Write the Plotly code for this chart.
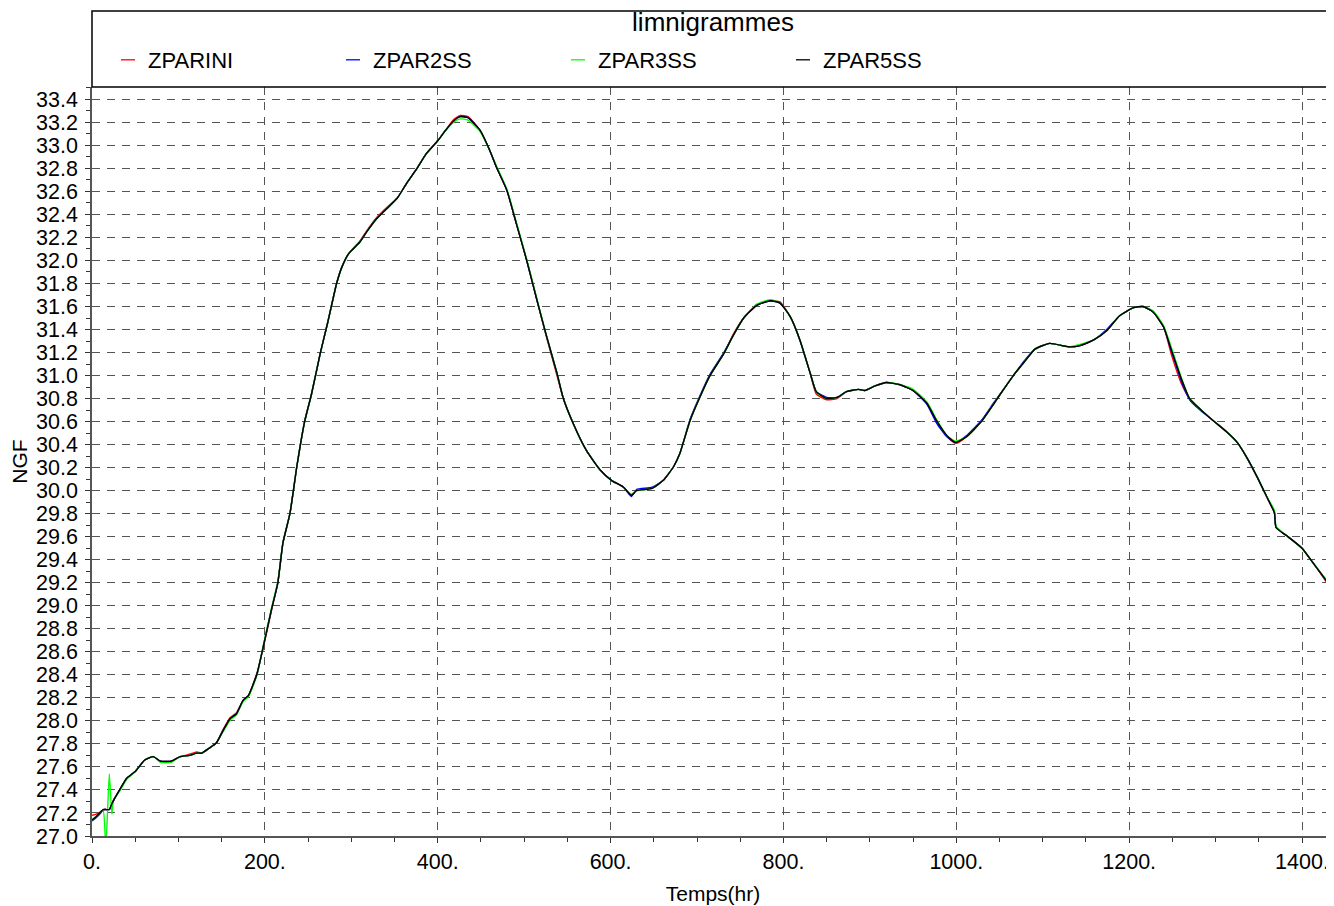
import plotly.graph_objects as go

# ---------------- data ----------------
T = [0, 5, 10, 13, 16, 20, 23, 25, 32, 40, 50, 61, 71, 79, 92, 102, 113, 121, 127, 135, 144, 152, 160, 167,
     175, 181, 191, 198, 208, 215, 221, 229, 237, 246, 254, 264, 273, 283, 289, 297, 310, 318, 329, 341,
     353, 364, 376, 387, 400, 408, 418, 426, 435, 449, 460, 468, 480, 491, 503, 515, 526, 538, 545, 557,
     572, 588, 601, 615, 624, 630, 648, 661, 673, 680, 692, 702, 715, 731, 742, 754, 769, 785, 796, 808,
     819, 831, 838, 850, 862, 873, 887, 894, 906, 919, 935, 950, 966, 977, 989, 999, 1012, 1029, 1043,
     1051, 1066, 1080, 1091, 1108, 1130, 1143, 1159, 1174, 1189, 1205, 1216, 1228, 1240, 1249, 1261,
     1270, 1282, 1297, 1313, 1325, 1336, 1348, 1359, 1368, 1370, 1382, 1400, 1413, 1437]

ZPAR5SS = [27.14, 27.17, 27.21, 27.23, 27.23, 27.23, 27.28, 27.31, 27.40, 27.50, 27.56, 27.66, 27.69, 27.65,
           27.65, 27.69, 27.70, 27.72, 27.72, 27.76, 27.81, 27.92, 28.02, 28.06, 28.18, 28.22, 28.41, 28.64,
           28.98, 29.20, 29.55, 29.80, 30.21, 30.60, 30.84, 31.19, 31.47, 31.80, 31.94, 32.06, 32.16, 32.25,
           32.36, 32.45, 32.54, 32.67, 32.80, 32.93, 33.04, 33.12, 33.21, 33.25, 33.24, 33.13, 32.96, 32.81,
           32.61, 32.32, 32.00, 31.65, 31.34, 31.02, 30.81, 30.58, 30.35, 30.18, 30.09, 30.03, 29.96, 30.00,
           30.02, 30.09, 30.21, 30.32, 30.61, 30.79, 31.00, 31.19, 31.35, 31.50, 31.61, 31.65, 31.63, 31.51,
           31.31, 31.02, 30.86, 30.80, 30.81, 30.86, 30.88, 30.87, 30.91, 30.94, 30.92, 30.87, 30.76, 30.61,
           30.48, 30.42, 30.47, 30.60, 30.75, 30.84, 31.00, 31.13, 31.23, 31.28, 31.25, 31.26, 31.31, 31.39,
           31.52, 31.59, 31.60, 31.55, 31.42, 31.22, 30.96, 30.80, 30.71, 30.61, 30.51, 30.42, 30.29, 30.12,
           29.95, 29.81, 29.68, 29.61, 29.50, 29.37, 29.13]

ZPARINI = [27.18, 27.19, 27.21, 27.23, 27.23, 27.23, 27.28, 27.31, 27.40, 27.50, 27.56, 27.66, 27.69, 27.65,
           27.65, 27.69, 27.71, 27.73, 27.72, 27.76, 27.81, 27.93, 28.03, 28.07, 28.18, 28.22, 28.42, 28.63,
           28.97, 29.20, 29.55, 29.80, 30.21, 30.60, 30.84, 31.19, 31.47, 31.80, 31.94, 32.06, 32.17, 32.26,
           32.37, 32.46, 32.54, 32.67, 32.80, 32.93, 33.04, 33.12, 33.22, 33.26, 33.25, 33.13, 32.96, 32.81,
           32.61, 32.32, 32.00, 31.65, 31.33, 31.00, 30.81, 30.58, 30.35, 30.18, 30.09, 30.03, 29.96, 30.00,
           30.02, 30.09, 30.21, 30.32, 30.61, 30.79, 31.00, 31.19, 31.36, 31.50, 31.61, 31.65, 31.64, 31.51,
           31.31, 31.02, 30.84, 30.79, 30.80, 30.86, 30.88, 30.87, 30.91, 30.94, 30.92, 30.87, 30.76, 30.61,
           30.47, 30.41, 30.47, 30.60, 30.75, 30.84, 31.00, 31.13, 31.23, 31.28, 31.25, 31.26, 31.31, 31.39,
           31.52, 31.59, 31.60, 31.55, 31.42, 31.18, 30.92, 30.80, 30.71, 30.61, 30.51, 30.42, 30.29, 30.12,
           29.95, 29.81, 29.68, 29.61, 29.50, 29.37, 29.11]

ZPAR2SS = [27.13, 27.16, 27.20, 27.23, 27.23, 27.23, 27.28, 27.31, 27.40, 27.50, 27.56, 27.66, 27.69, 27.65,
           27.65, 27.69, 27.70, 27.72, 27.72, 27.76, 27.81, 27.92, 28.02, 28.06, 28.18, 28.22, 28.41, 28.64,
           28.98, 29.20, 29.55, 29.80, 30.21, 30.60, 30.84, 31.19, 31.47, 31.80, 31.94, 32.06, 32.16, 32.25,
           32.36, 32.45, 32.54, 32.67, 32.80, 32.93, 33.04, 33.12, 33.21, 33.25, 33.24, 33.13, 32.96, 32.81,
           32.61, 32.32, 32.00, 31.65, 31.34, 31.02, 30.81, 30.58, 30.35, 30.18, 30.09, 30.03, 29.95, 30.01,
           30.03, 30.09, 30.21, 30.32, 30.62, 30.80, 31.01, 31.20, 31.35, 31.50, 31.61, 31.65, 31.63, 31.51,
           31.31, 31.02, 30.86, 30.81, 30.81, 30.86, 30.88, 30.87, 30.91, 30.94, 30.92, 30.87, 30.75, 30.59,
           30.47, 30.42, 30.48, 30.61, 30.76, 30.84, 31.00, 31.14, 31.23, 31.28, 31.25, 31.26, 31.31, 31.40,
           31.52, 31.59, 31.60, 31.55, 31.42, 31.21, 30.94, 30.79, 30.70, 30.61, 30.51, 30.42, 30.29, 30.12,
           29.95, 29.81, 29.68, 29.61, 29.50, 29.37, 29.13]

ZPAR3SS = [27.14, 27.17, 27.21, 27.22, 26.90, 27.54, 27.19, 27.32, 27.39, 27.49, 27.56, 27.66, 27.69, 27.64,
           27.64, 27.69, 27.70, 27.72, 27.72, 27.76, 27.81, 27.91, 28.01, 28.05, 28.17, 28.21, 28.40, 28.65,
           28.99, 29.21, 29.55, 29.80, 30.21, 30.60, 30.84, 31.19, 31.47, 31.80, 31.94, 32.06, 32.16, 32.25,
           32.36, 32.45, 32.54, 32.67, 32.80, 32.93, 33.04, 33.12, 33.20, 33.23, 33.22, 33.12, 32.96, 32.82,
           32.62, 32.33, 32.01, 31.66, 31.34, 31.02, 30.81, 30.58, 30.35, 30.18, 30.09, 30.03, 29.97, 30.00,
           30.02, 30.09, 30.21, 30.32, 30.61, 30.79, 31.00, 31.19, 31.35, 31.50, 31.62, 31.66, 31.63, 31.51,
           31.31, 31.02, 30.86, 30.80, 30.81, 30.86, 30.88, 30.87, 30.91, 30.94, 30.92, 30.88, 30.77, 30.62,
           30.48, 30.43, 30.47, 30.60, 30.75, 30.84, 31.00, 31.13, 31.23, 31.28, 31.25, 31.27, 31.31, 31.39,
           31.52, 31.59, 31.60, 31.56, 31.43, 31.24, 30.97, 30.80, 30.71, 30.61, 30.51, 30.42, 30.29, 30.12,
           29.95, 29.83, 29.69, 29.61, 29.50, 29.37, 29.14]

SERIES = [("ZPARINI", ZPARINI, "#ff0000"),
          ("ZPAR2SS", ZPAR2SS, "#0000ff"),
          ("ZPAR3SS", ZPAR3SS, "#00ff00"),
          ("ZPAR5SS", ZPAR5SS, "#000000")]

X_TICKS = [0, 200, 400, 600, 800, 1000, 1200, 1400]
X_TICK_TEXT = ["0.", "200.", "400.", "600.", "800.", "1000.", "1200.", "1400."]

# ---------------- figure ----------------
FONT = "Liberation Sans, Arial, sans-serif"
# page body has an 8px margin: figure is placed at (8, 8)
W, H = 1326, 898
ML, MR, MT, MB = 84, 0, 79, 70
PH = H - MT - MB
PW = W - ML - MR

fig = go.Figure()
for name, vals, col in SERIES:
    fig.add_trace(go.Scatter(x=T, y=vals, mode="lines", name=name,
                             line=dict(color=col, width=1.4, shape="spline", smoothing=0.5),
                             showlegend=False))
# legend entries (short dash symbol)
for name, vals, col in SERIES:
    fig.add_trace(go.Scatter(x=[None], y=[None], mode="markers", name=name,
                             marker=dict(symbol="line-ew", size=10, color=col,
                                         line=dict(color=col, width=1.3)),
                             showlegend=True))

grid_col = "#555555"
axis_col = "#555555"
common_x = dict(range=[0, 1437], tickvals=X_TICKS, ticktext=X_TICK_TEXT)
common_y = dict(range=[27.0, 33.507], tick0=27.0, dtick=0.2, tickformat=".1f")

fig.update_layout(
    width=W, height=H,
    margin=dict(l=ML, r=MR, t=MT, b=MB),
    paper_bgcolor="white", plot_bgcolor="white",
    font=dict(family=FONT, size=21, color="black"),
    title=dict(text="limnigrammes", x=(ML + PW / 2) / W, xanchor="center",
               y=1 - 14 / H, yanchor="middle", font=dict(size=26, family=FONT)),
    xaxis=dict(**common_x, showgrid=True, gridcolor=grid_col, griddash="8px,7px", gridwidth=1.4,
               showline=True, linecolor=axis_col, linewidth=1.5, zeroline=False,
               ticks="outside", ticklen=5, tickwidth=1.3, tickcolor="#333",
               minor=dict(dtick=50, tick0=0, ticks="outside", ticklen=4, tickwidth=1.2,
                          tickcolor="#333", showgrid=False),
               tickfont=dict(size=21.5), title=dict(text="Temps(hr)", font=dict(size=21), standoff=14)),
    xaxis2=dict(**common_x, overlaying="x", anchor="y", side="bottom", showgrid=False,
                showline=False, zeroline=False, showticklabels=False,
                ticks="inside", ticklen=5, tickwidth=1.3, tickcolor="#333",
                minor=dict(dtick=50, tick0=0, ticks="inside", ticklen=4, tickwidth=1.2,
                           tickcolor="#333", showgrid=False)),
    yaxis=dict(**common_y, showgrid=True, gridcolor=grid_col, griddash="8px,7px", gridwidth=1.4,
               showline=True, linecolor=axis_col, linewidth=1.5, zeroline=False,
               ticks="outside", ticklen=5, tickwidth=1.3, tickcolor="#333",
               minor=dict(dtick=0.1, tick0=27.0, ticks="outside", ticklen=4, tickwidth=1.2,
                          tickcolor="#333", showgrid=False),
               ticklabelstandoff=3,
               tickfont=dict(size=21.5), title=dict(text="NGF", font=dict(size=21), standoff=3)),
    yaxis2=dict(**common_y, overlaying="y", anchor="x", side="left", showgrid=False,
                showline=False, zeroline=False, showticklabels=False,
                ticks="inside", ticklen=5, tickwidth=1.3, tickcolor="#333",
                minor=dict(dtick=0.1, tick0=27.0, ticks="inside", ticklen=4, tickwidth=1.2,
                           tickcolor="#333", showgrid=False)),
    legend=dict(orientation="h", x=16 / PW, xanchor="left", y=1 + (MT + 8 - 60) / PH, yanchor="middle",
                bgcolor="rgba(0,0,0,0)", font=dict(size=22, family=FONT),
                entrywidth=180, entrywidthmode="pixels", itemclick=False),
    shapes=[dict(type="rect", xref="paper", yref="paper", x0=0, x1=1.01,
                 y0=1, y1=1 + (MT + 8 - 11) / PH, line=dict(color="black", width=1.5),
                 fillcolor="rgba(0,0,0,0)", layer="above")],
)

fig.write_html("out.html")
